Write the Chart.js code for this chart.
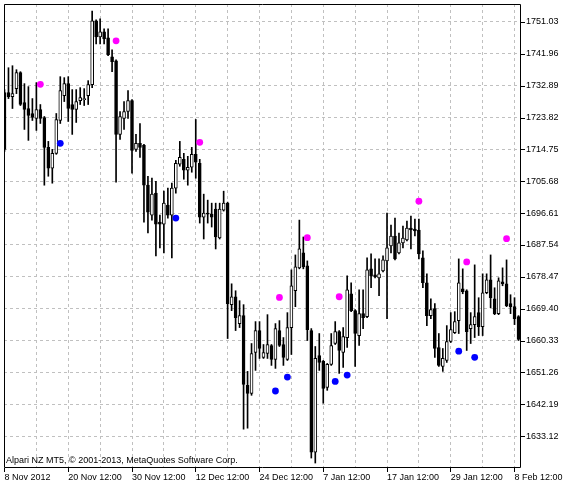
<!DOCTYPE html>
<html>
<head>
<meta charset="utf-8">
<title>XAUUSD H12</title>
<script src="https://cdn.jsdelivr.net/npm/chart.js@4.4.1/dist/chart.umd.min.js"></script>
<style>
  html, body { margin: 0; padding: 0; background: #fff; }
  canvas { display: block; }
</style>
</head>
<body>
<canvas id="chart" width="573" height="489"></canvas>
<script>
// H12 candles (oldest first)
const opens = [
  1730.91, 1730.91, 1729.77, 1732.04, 1736.58, 1728.08, 1726.38, 1724.96, 1723.54, 1726.09,
  1723.82, 1715.32, 1709.37, 1713.62, 1722.97, 1730.06, 1733.46, 1727.51, 1726.09, 1728.64,
  1728.92, 1730.06, 1733.17, 1751.31, 1746.78, 1748.20, 1746.50, 1741.11, 1739.98, 1719.01,
  1723.54, 1725.53, 1728.64, 1714.75, 1716.46, 1715.89, 1704.55, 1696.04, 1702.28, 1694.06,
  1693.49, 1698.88, 1696.04, 1703.70, 1710.50, 1711.92, 1708.80, 1709.65, 1713.34, 1710.79,
  1695.47, 1696.61, 1696.33, 1697.74, 1689.52, 1697.46, 1699.44, 1670.54, 1672.80, 1665.15,
  1667.42, 1647.58, 1645.31, 1656.93, 1663.17, 1655.51, 1656.65, 1658.92, 1654.95, 1663.17,
  1659.20, 1654.95, 1664.02, 1674.50, 1681.02, 1685.27, 1681.59, 1663.17, 1628.58, 1656.08,
  1654.38, 1647.01, 1653.53, 1659.48, 1662.88, 1656.93, 1661.18, 1673.65, 1668.84, 1661.75,
  1667.99, 1667.13, 1680.74, 1679.04, 1678.19, 1680.17, 1683.00, 1687.26, 1690.09, 1685.27,
  1688.11, 1688.96, 1692.36, 1692.07, 1691.79, 1683.85, 1676.77, 1667.42, 1669.40, 1658.35,
  1652.96, 1654.66, 1660.05, 1662.60, 1666.00, 1675.07, 1674.50, 1663.73, 1664.87, 1668.27,
  1664.30, 1673.93, 1677.62, 1672.23, 1667.99, 1677.05, 1676.48, 1670.82, 1669.97, 1667.13
];
const highs = [
  1731.76, 1737.99, 1738.56, 1737.43, 1736.86, 1733.46, 1732.61, 1729.21, 1733.74, 1727.51,
  1724.11, 1717.02, 1714.75, 1724.96, 1735.44, 1735.16, 1735.44, 1731.76, 1731.76, 1732.32,
  1732.04, 1734.31, 1754.15, 1751.60, 1751.88, 1749.05, 1749.05, 1743.09, 1740.26, 1725.53,
  1728.36, 1731.47, 1728.92, 1719.01, 1722.12, 1716.17, 1707.10, 1706.54, 1705.68, 1696.04,
  1702.85, 1703.70, 1705.12, 1711.64, 1717.02, 1713.62, 1712.77, 1715.32, 1723.26, 1711.92,
  1702.00, 1700.30, 1699.44, 1699.44, 1699.44, 1702.85, 1699.73, 1676.48, 1674.50, 1671.67,
  1670.54, 1651.55, 1659.48, 1665.72, 1665.72, 1659.20, 1667.70, 1659.20, 1665.15, 1666.00,
  1661.18, 1668.27, 1680.45, 1684.70, 1694.62, 1689.81, 1683.00, 1663.73, 1658.63, 1662.32,
  1654.66, 1653.81, 1662.32, 1665.72, 1663.17, 1664.02, 1678.75, 1676.77, 1669.12, 1674.78,
  1674.78, 1683.85, 1684.99, 1683.57, 1683.57, 1684.42, 1696.61, 1693.21, 1695.19, 1690.94,
  1692.92, 1694.34, 1695.76, 1694.91, 1694.91, 1685.84, 1679.32, 1672.23, 1670.82, 1662.32,
  1658.06, 1664.58, 1668.27, 1668.55, 1683.57, 1680.74, 1674.78, 1668.27, 1681.87, 1672.52,
  1679.32, 1679.32, 1684.70, 1675.35, 1678.19, 1681.02, 1683.29, 1673.37, 1672.52, 1667.42
];
const lows = [
  1714.19, 1729.21, 1726.38, 1730.62, 1727.23, 1720.42, 1717.31, 1722.97, 1720.14, 1722.12,
  1704.55, 1707.10, 1705.12, 1713.34, 1722.12, 1728.36, 1722.69, 1719.01, 1722.41, 1727.51,
  1727.23, 1727.51, 1732.32, 1744.80, 1744.80, 1744.80, 1741.39, 1736.86, 1705.40, 1717.59,
  1720.42, 1723.54, 1707.95, 1714.19, 1712.49, 1694.06, 1690.94, 1694.62, 1684.42, 1686.69,
  1685.27, 1695.19, 1683.85, 1702.28, 1709.94, 1706.25, 1704.55, 1708.24, 1706.54, 1693.77,
  1689.24, 1693.77, 1692.64, 1686.40, 1689.24, 1697.18, 1660.90, 1668.84, 1663.17, 1664.02,
  1635.10, 1635.38, 1644.74, 1651.83, 1655.23, 1655.23, 1655.23, 1653.25, 1652.40, 1658.63,
  1653.25, 1654.66, 1656.36, 1669.97, 1680.74, 1680.74, 1660.33, 1626.88, 1625.46, 1651.83,
  1642.47, 1646.16, 1653.25, 1659.20, 1650.98, 1652.68, 1658.35, 1668.55, 1652.96, 1658.92,
  1663.73, 1666.85, 1675.35, 1678.19, 1673.08, 1679.89, 1666.57, 1685.27, 1683.29, 1684.99,
  1686.69, 1688.67, 1686.40, 1690.09, 1683.57, 1675.35, 1664.58, 1666.57, 1655.51, 1652.96,
  1651.55, 1654.10, 1659.77, 1662.32, 1662.32, 1673.65, 1657.50, 1659.48, 1661.18, 1661.75,
  1661.75, 1673.65, 1669.69, 1667.70, 1667.70, 1675.92, 1669.97, 1667.99, 1664.87, 1660.33
];
const closes = [
  1714.75, 1729.77, 1730.62, 1736.58, 1727.51, 1726.09, 1724.39, 1723.82, 1726.09, 1723.54,
  1715.32, 1709.37, 1713.62, 1723.26, 1731.47, 1733.46, 1726.38, 1726.09, 1728.36, 1729.49,
  1729.21, 1733.17, 1751.31, 1746.78, 1748.20, 1746.21, 1741.68, 1739.69, 1719.01, 1724.11,
  1725.53, 1728.64, 1714.47, 1716.46, 1715.32, 1704.55, 1696.89, 1702.00, 1693.49, 1693.49,
  1699.44, 1696.04, 1703.70, 1710.79, 1712.49, 1708.80, 1709.65, 1713.34, 1711.07, 1695.47,
  1696.61, 1696.33, 1695.47, 1689.81, 1697.74, 1699.44, 1670.82, 1672.80, 1666.85, 1667.42,
  1647.86, 1645.31, 1656.65, 1663.17, 1658.06, 1656.93, 1659.20, 1654.95, 1663.73, 1658.92,
  1655.51, 1664.02, 1675.92, 1681.30, 1686.40, 1681.30, 1663.45, 1628.58, 1655.23, 1654.10,
  1646.73, 1653.53, 1658.92, 1662.88, 1657.50, 1661.47, 1674.78, 1668.84, 1662.32, 1667.99,
  1666.85, 1680.45, 1678.75, 1678.47, 1679.32, 1683.29, 1686.69, 1690.09, 1683.57, 1688.11,
  1689.52, 1692.36, 1691.79, 1691.51, 1684.99, 1676.77, 1667.42, 1669.12, 1658.06, 1653.25,
  1655.23, 1660.05, 1663.45, 1665.72, 1676.77, 1674.22, 1662.88, 1664.87, 1667.13, 1664.30,
  1673.93, 1677.62, 1672.52, 1667.99, 1677.33, 1676.48, 1670.25, 1669.97, 1666.57, 1660.62
];

// indicator dots: magenta above, blue below (bar index, price)
const upIdx = [9, 28, 49, 69, 76, 84, 104, 116, 126];
const upVal = [1733.26, 1745.65, 1716.74, 1672.60, 1689.61, 1672.80, 1700.01, 1682.72, 1689.32];
const dnIdx = [14, 43, 68, 71, 83, 86, 114, 118];
const dnVal = [1716.46, 1695.19, 1645.97, 1649.93, 1648.68, 1650.50, 1657.30, 1655.55];

// axis labels
const timeLabels = ['8 Nov 2012', '20 Nov 12:00', '30 Nov 12:00', '12 Dec 12:00', '24 Dec 12:00',
  '7 Jan 12:00', '17 Jan 12:00', '29 Jan 12:00', '8 Feb 12:00'];
const priceTicks = [1633.12, 1642.19, 1651.26, 1660.33, 1669.40, 1678.47, 1687.54,
  1696.61, 1705.68, 1714.75, 1723.82, 1732.89, 1741.96, 1751.03];
const copyright = 'Alpari NZ MT5, \u00a9 2001-2013, MetaQuotes Software Corp.';

const BARS_PER_LABEL = 16;
const BARS_PER_GRID = 8;

Chart.defaults.font.family = '"Liberation Sans", Arial, sans-serif';
Chart.defaults.font.size = 9;
Chart.defaults.color = '#000';

let bodies = [];
let wicks = [];
opens.forEach((o, i) => {
  bodies.push({ x: i, y: [o, closes[i]] });
  wicks.push({ x: i, y: [lows[i], highs[i]] });
});
let ups = upIdx.map((x, k) => ({ x: x, y: upVal[k] }));
let downs = dnIdx.map((x, k) => ({ x: x, y: dnVal[k] }));

// frame, small tick marks and the broker line
const framePlugin = {
  id: 'frame',
  afterDraw(chart) {
    const c = chart.ctx;
    const a = chart.chartArea;
    const sx = chart.scales.x, sy = chart.scales.y;
    c.save();
    c.strokeStyle = '#000';
    c.lineWidth = 1;
    c.beginPath();
    c.moveTo(a.left + 0.5, a.bottom + 0.5);
    c.lineTo(a.left + 0.5, a.top + 0.5);
    c.lineTo(a.right + 0.5, a.top + 0.5);
    c.lineTo(a.right + 0.5, a.bottom + 0.5);
    c.lineTo(a.left + 0.5, a.bottom + 0.5);
    priceTicks.forEach(v => {
      let y = Math.round(sy.getPixelForValue(v)) + 0.5;
      c.moveTo(a.right + 1, y);
      c.lineTo(a.right + 5, y);
    });
    timeLabels.forEach((t, k) => {
      let x = Math.floor(sx.getPixelForValue(k * BARS_PER_LABEL)) + 0.5;
      c.moveTo(x, a.bottom + 1);
      c.lineTo(x, a.bottom + 5);
    });
    c.stroke();
    c.fillStyle = '#000';
    c.font = '9px "Liberation Sans", Arial, sans-serif';
    c.textBaseline = 'middle';
    c.fillText(copyright, a.left + 2, a.bottom - 6);
    c.restore();
  }
};

// keep the plot box fixed: no extra room for half labels
function noPad(s) {
  s.paddingTop = 0;
  s.paddingBottom = 0;
  s.paddingLeft = 0;
  s.paddingRight = 0;
}

const chart = new Chart(document.getElementById('chart'), {
  type: 'bar',
  data: {
    datasets: [
      { type: 'scatter', data: ups, backgroundColor: '#ff00ff', borderWidth: 0, pointRadius: 3.4, order: 1 },
      { type: 'scatter', data: downs, backgroundColor: '#0000ff', borderWidth: 0, pointRadius: 3.4, order: 1 },
      {
        data: bodies,
        backgroundColor: c => closes[c.dataIndex] > opens[c.dataIndex] ? '#ffffff' : '#000000',
        borderColor: '#000',
        borderWidth: 1,
        borderSkipped: false,
        barThickness: 3,
        grouped: false,
        clip: 0,
        order: 2
      },
      {
        data: wicks,
        backgroundColor: '#000',
        borderWidth: 0,
        barThickness: 1,
        grouped: false,
        clip: 0,
        order: 3
      }
    ]
  },
  options: {
    responsive: false,
    animation: false,
    events: [],
    layout: { padding: { left: 2, top: 2, right: 0, bottom: 0 } },
    plugins: { legend: { display: false }, tooltip: { enabled: false } },
    scales: {
      x: {
        type: 'linear',
        min: -0.125,
        max: 129.375,
        offset: false,
        afterBuildTicks: s => {
          let t = [];
          for (let i = 0; i <= 128; i += BARS_PER_GRID) t.push({ value: i });
          s.ticks = t;
        },
        afterFit: s => { s.height = 22; noPad(s); },
        grid: { color: '#c0c0c0', offset: false, drawTicks: false },
        border: { display: false, dash: [3, 3] },
        ticks: {
          autoSkip: false,
          maxRotation: 0,
          align: 'start',
          padding: 5,
          callback: v => (v % BARS_PER_LABEL === 0 ? timeLabels[v / BARS_PER_LABEL] : '')
        }
      },
      y: {
        position: 'right',
        min: 1624.33,
        max: 1756.13,
        afterBuildTicks: s => { s.ticks = priceTicks.map(v => ({ value: v })); },
        afterFit: s => { s.width = 53; noPad(s); },
        grid: { color: '#c0c0c0', drawTicks: false },
        border: { display: false, dash: [3, 3] },
        ticks: {
          padding: 6,
          callback: v => v.toFixed(2)
        }
      }
    }
  },
  plugins: [framePlugin]
});
</script>
</body>
</html>
